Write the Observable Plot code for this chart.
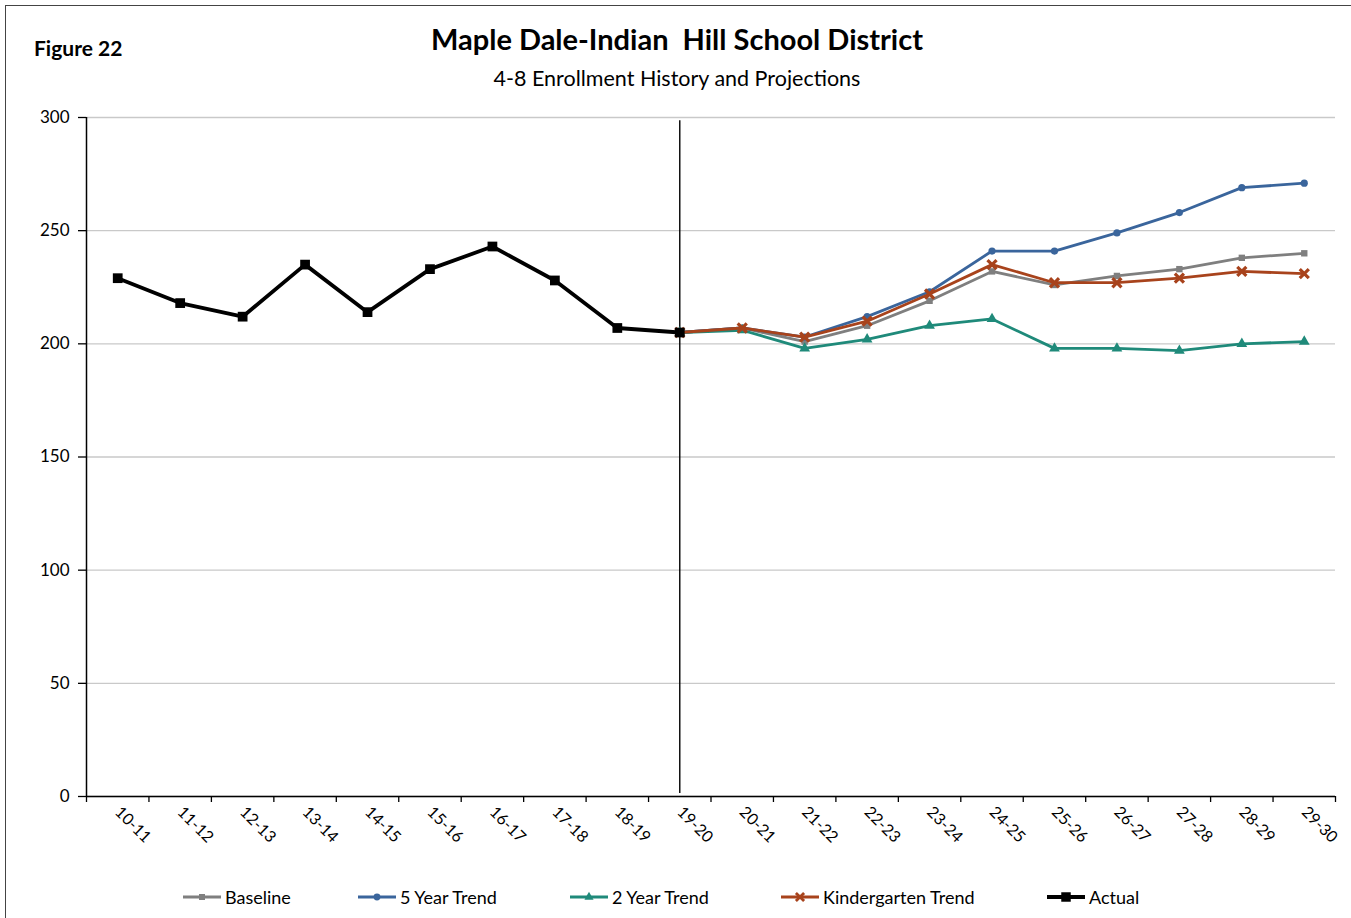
<!DOCTYPE html>
<html>
<head>
<meta charset="utf-8">
<script src="https://cdn.jsdelivr.net/npm/d3@7"></script>
<script src="https://cdn.jsdelivr.net/npm/@observablehq/plot@0.6"></script>
<style>
  html, body { margin: 0; padding: 0; background: #fff; }
  body { width: 1351px; height: 918px; position: relative; overflow: hidden; font-family: Lato, "Open Sans", sans-serif; color: #000; }
  #frame { position: absolute; left: 5px; top: 5px; width: 1350px; height: 920px; border: 1.5px solid #444; box-sizing: border-box; }
  #fig { position: absolute; left: 34px; top: 35px; font-size: 21px; font-weight: bold; }
  #title { position: absolute; left: 0; width: 1354px; top: 21px; text-align: center; font-size: 29px; font-weight: bold; }
  #subtitle { position: absolute; left: 0; width: 1354px; top: 65px; text-align: center; font-size: 21.5px; }
  #chart { position: absolute; left: 0; top: 100px; }
  #legend { position: absolute; top: 885px; left: 0; width: 1351px; height: 24px; font-size: 18px; }
  .item { position: absolute; top: 0; display: flex; align-items: center; height: 24px; }
  .item svg { margin-right: 3px; }
</style>
</head>
<body>
<div id="frame"></div>
<div id="fig">Figure 22</div>
<div id="title">Maple Dale-Indian&nbsp; Hill School District</div>
<div id="subtitle">4-8 Enrollment History and Projections</div>
<div id="chart"></div>
<div id="legend"></div>
<script>
// ---- data ----
const years = ["10-11","11-12","12-13","13-14","14-15","15-16","16-17","17-18","18-19","19-20",
               "20-21","21-22","22-23","23-24","24-25","25-26","26-27","27-28","28-29","29-30"];
const actualYears = years.slice(0, 10);
const actual = [229, 218, 212, 235, 214, 233, 243, 228, 207, 205];
const projYears = years.slice(9);
const baseline     = [205, 207, 201, 208, 219, 232, 226, 230, 233, 238, 240];
const fiveYear     = [205, 207, 203, 212, 223, 241, 241, 249, 258, 269, 271];
const twoYear      = [205, 206, 198, 202, 208, 211, 198, 198, 197, 200, 201];
const kindergarten = [205, 207, 203, 210, 222, 235, 227, 227, 229, 232, 231];
const yTicks = [0, 50, 100, 150, 200, 250, 300];
const dividerYear = "19-20";

const seriesDefs = [
  {name: "Baseline",          years: projYears,   values: baseline,     color: "#7f7f7f", symbol: "square",   r: 3.6, sw: 2.8, fill: true},
  {name: "5 Year Trend",      years: projYears,   values: fiveYear,     color: "#3a659c", symbol: "circle",   r: 3.6, sw: 2.8, fill: true},
  {name: "2 Year Trend",      years: projYears,   values: twoYear,      color: "#1f8a7a", symbol: "triangle", r: 4.0, sw: 2.8, fill: true},
  {name: "Kindergarten Trend",years: projYears,   values: kindergarten, color: "#a8431c", symbol: "times",    r: 4.2, sw: 2.8, fill: false},
  {name: "Actual",            years: actualYears, values: actual,       color: "#000000", symbol: "square",   r: 5.5, sw: 3.8, fill: true}
];

const idx = y => years.indexOf(y);
const boundaries = d3.range(years.length + 1).map(i => i - 0.5);

const marks = [
  Plot.gridY(yTicks, {stroke: "#c9c9c9", strokeOpacity: 1, strokeWidth: 1.3}),
  Plot.axisY({ticks: yTicks, label: null, tickSize: 8, tickPadding: 9, fontSize: 17, stroke: "#000", strokeWidth: 1.3}),
  Plot.ruleY([0], {stroke: "#000", strokeWidth: 1.5}),
  Plot.ruleX([0], {x: () => -0.5, y1: 0, y2: 300, stroke: "#000", strokeWidth: 1.5}),
  Plot.axisX({ticks: boundaries, label: null, tickFormat: () => "", tickSize: 6, stroke: "#000", strokeWidth: 1.3}),
  Plot.axisX({ticks: d3.range(years.length), label: null, tickFormat: i => years[i], tickSize: 0, tickRotate: 45, tickPadding: 13, fontSize: 16}),
  Plot.ruleX([dividerYear], {x: d => idx(d), y1: 1.3, y2: 298.6, stroke: "#000", strokeWidth: 1.4})
];

for (const s of seriesDefs) {
  const data = s.years.map((y, i) => ({x: idx(y), v: s.values[i]}));
  marks.push(Plot.line(data, {x: "x", y: "v", stroke: s.color, strokeWidth: s.sw}));
  if (s.fill) {
    marks.push(Plot.dot(data, {x: "x", y: "v", symbol: s.symbol, r: s.r, fill: s.color, stroke: "none"}));
  } else {
    marks.push(Plot.dot(data, {x: "x", y: "v", symbol: s.symbol, r: s.r, stroke: s.color, strokeWidth: 3.2}));
  }
}

const chart = Plot.plot({
  width: 1351,
  height: 760,
  marginLeft: 86,
  marginRight: 16,
  marginTop: 17,
  marginBottom: 64,
  style: {fontFamily: "Lato, 'Open Sans', sans-serif", fontSize: "16px", color: "#000", background: "transparent"},
  x: {type: "linear", domain: [-0.5, years.length - 0.5], axis: null, label: null},
  y: {domain: [0, 300], axis: null, label: null},
  marks
});
document.getElementById("chart").appendChild(chart);

// ---- legend ----
const legendX = [182, 357, 569, 780, 1046];
const legend = document.getElementById("legend");
seriesDefs.forEach((s, i) => {
  const item = document.createElement("div");
  item.className = "item";
  item.style.left = legendX[i] + "px";
  const sym = d3.symbol(
    {square: d3.symbolSquare, circle: d3.symbolCircle, triangle: d3.symbolTriangle, times: d3.symbolTimes}[s.symbol],
    s.symbol === "times" ? 45 : (s.name === "Actual" ? 90 : 36)
  )();
  const svg = d3.create("svg").attr("width", 40).attr("height", 24);
  svg.append("line").attr("x1", 1).attr("x2", 39).attr("y1", 12).attr("y2", 12)
     .attr("stroke", s.color).attr("stroke-width", s.sw);
  svg.append("path").attr("d", sym).attr("transform", "translate(20,12)")
     .attr("fill", s.fill ? s.color : "none").attr("stroke", s.fill ? "none" : s.color)
     .attr("stroke-width", s.fill ? 0 : 2.8);
  item.appendChild(svg.node());
  const t = document.createElement("span");
  t.textContent = s.name;
  item.appendChild(t);
  legend.appendChild(item);
});
</script>
</body>
</html>
